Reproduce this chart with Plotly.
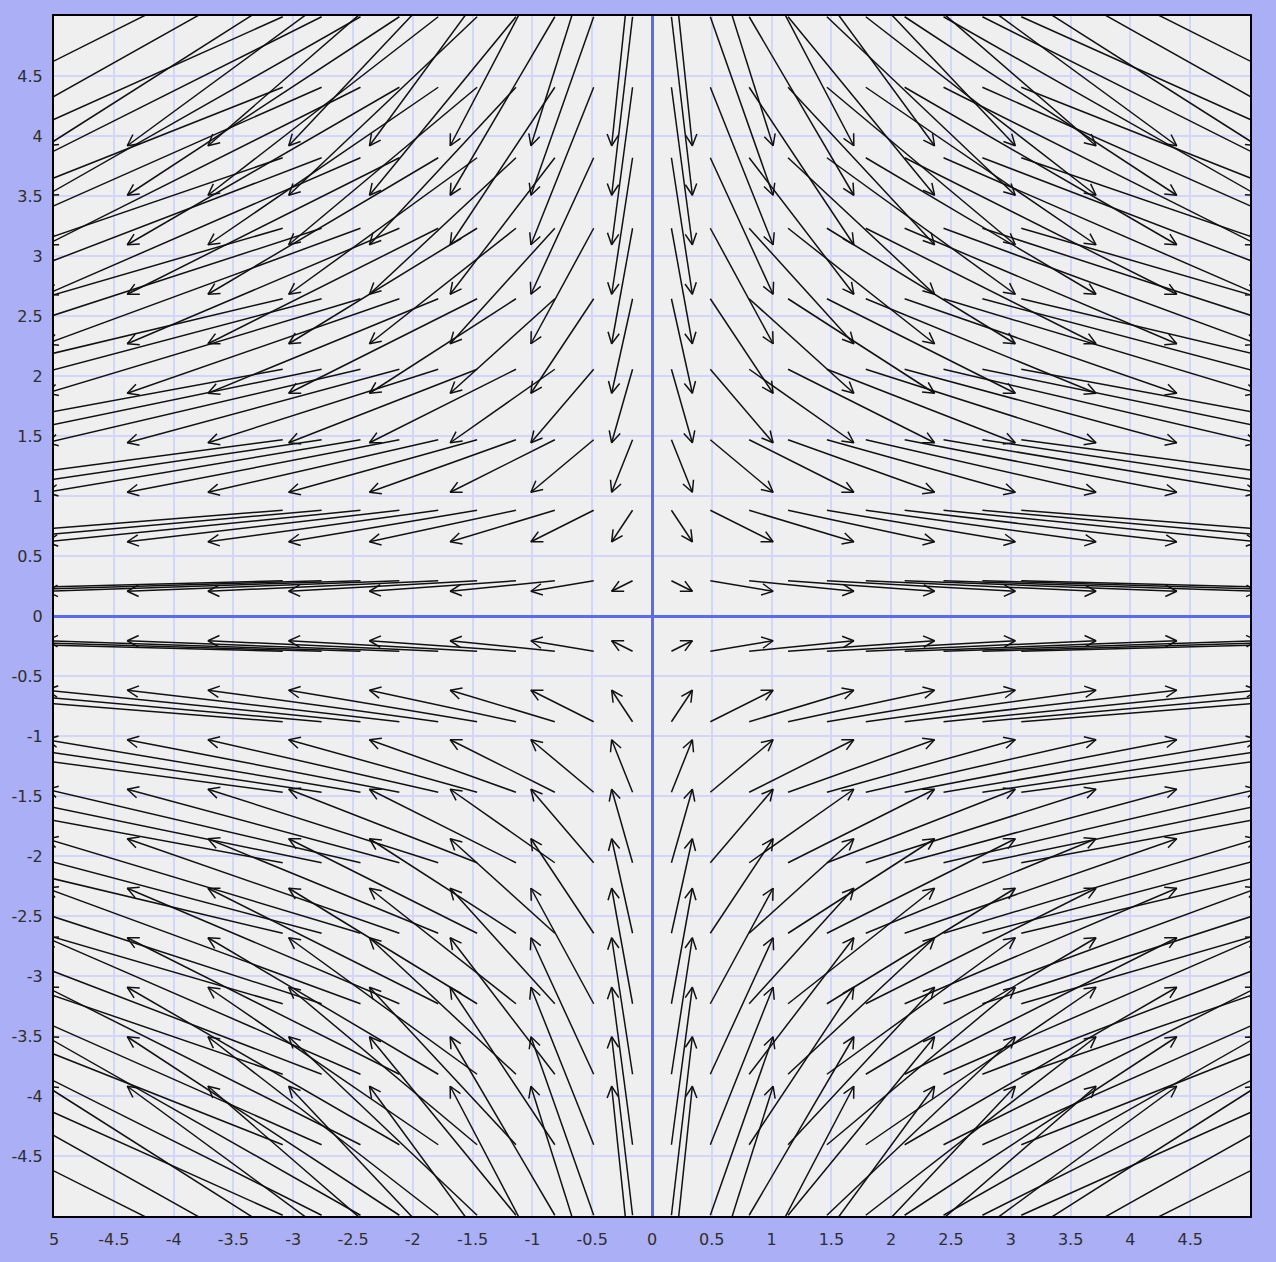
import math
import plotly.graph_objects as go

# Grid of arrow centres (data units)
X_CENTERS = [-4.75, -4.25, -3.75, -3.25, -2.75, -2.25, -1.75, -1.25, -0.75, -0.25,
             0.25, 0.75, 1.25, 1.75, 2.25, 2.75, 3.25, 3.75, 4.25, 4.75]
Y_CENTERS = [-4.75, -4.25, -3.75, -3.25, -2.75, -2.25, -1.75, -1.25, -0.75, -0.25,
             0.25, 0.75, 1.25, 1.75, 2.25, 2.75, 3.25, 3.75, 4.25, 4.75]
# Field components: u depends on the column, v on the row
U_BY_COLUMN = [-9.5, -8.5, -7.5, -6.5, -5.5, -4.5, -3.5, -2.5, -1.5, -0.5,
               0.5, 1.5, 2.5, 3.5, 4.5, 5.5, 6.5, 7.5, 8.5, 9.5]
V_BY_ROW = [4.75, 4.25, 3.75, 3.25, 2.75, 2.25, 1.75, 1.25, 0.75, 0.25,
            -0.25, -0.75, -1.25, -1.75, -2.25, -2.75, -3.25, -3.75, -4.25, -4.75]

X_TICKS = [-5, -4.5, -4, -3.5, -3, -2.5, -2, -1.5, -1, -0.5, 0, 0.5, 1, 1.5, 2, 2.5, 3, 3.5, 4, 4.5]
X_TICK_TEXT = ["5", "-4.5", "-4", "-3.5", "-3", "-2.5", "-2", "-1.5", "-1", "-0.5",
               "0", "0.5", "1", "1.5", "2", "2.5", "3", "3.5", "4", "4.5"]
Y_TICKS = [-4.5, -4, -3.5, -3, -2.5, -2, -1.5, -1, -0.5, 0, 0.5, 1, 1.5, 2, 2.5, 3, 3.5, 4, 4.5]
Y_TICK_TEXT = ["-4.5", "-4", "-3.5", "-3", "-2.5", "-2", "-1.5", "-1", "-0.5",
               "0", "0.5", "1", "1.5", "2", "2.5", "3", "3.5", "4", "4.5"]

ARROW_SCALE = 0.35      # display length per field unit
HEAD_LEN = 0.105        # barb length in data units
HEAD_ANGLE = math.radians(27)

xs, ys = [], []
for j, yc in enumerate(Y_CENTERS):
    for i, xc in enumerate(X_CENTERS):
        u = U_BY_COLUMN[i] * ARROW_SCALE
        v = V_BY_ROW[j] * ARROW_SCALE
        tx, ty = xc - u / 2, yc - v / 2
        hx, hy = xc + u / 2, yc + v / 2
        xs += [tx, hx, None]
        ys += [ty, hy, None]
        L = math.hypot(u, v)
        dx, dy = u / L, v / L
        ca, sa = math.cos(HEAD_ANGLE), math.sin(HEAD_ANGLE)
        b1x = hx - HEAD_LEN * (dx * ca - dy * sa)
        b1y = hy - HEAD_LEN * (dx * sa + dy * ca)
        b2x = hx - HEAD_LEN * (dx * ca + dy * sa)
        b2y = hy - HEAD_LEN * (-dx * sa + dy * ca)
        xs += [b1x, hx, b2x, None]
        ys += [b1y, hy, b2y, None]

fig = go.Figure()
fig.add_trace(go.Scatter(x=xs, y=ys, mode="lines",
                         line=dict(color="#111111", width=1.5),
                         hoverinfo="skip", showlegend=False))

font = dict(family="DejaVu Sans", size=16, color="#2e2e2e")
axis_common = dict(
    range=[-5, 5], showgrid=True, gridcolor="#d3d6fa", gridwidth=2,
    zeroline=True, zerolinecolor="#5a6bf2", zerolinewidth=2.5,
    showline=True, mirror=True, linecolor="black", linewidth=2,
    ticks="", tickfont=font, fixedrange=True,
)
fig.update_layout(
    width=1276, height=1262,
    margin=dict(l=50, r=26, t=16, b=46),
    paper_bgcolor="#abaff6", plot_bgcolor="#efefef",
    showlegend=False, hovermode=False,
    xaxis=dict(**axis_common, tickmode="array", tickvals=X_TICKS, ticktext=X_TICK_TEXT,
               ticklabelstandoff=8),
    yaxis=dict(**axis_common, tickmode="array", tickvals=Y_TICKS, ticktext=Y_TICK_TEXT,
               ticklabelstandoff=6),
)
fig.write_html(
    "out.html",
    config={"displayModeBar": False},
    post_script="document.body.style.margin='0';document.body.style.background='#abaff6';",
)
